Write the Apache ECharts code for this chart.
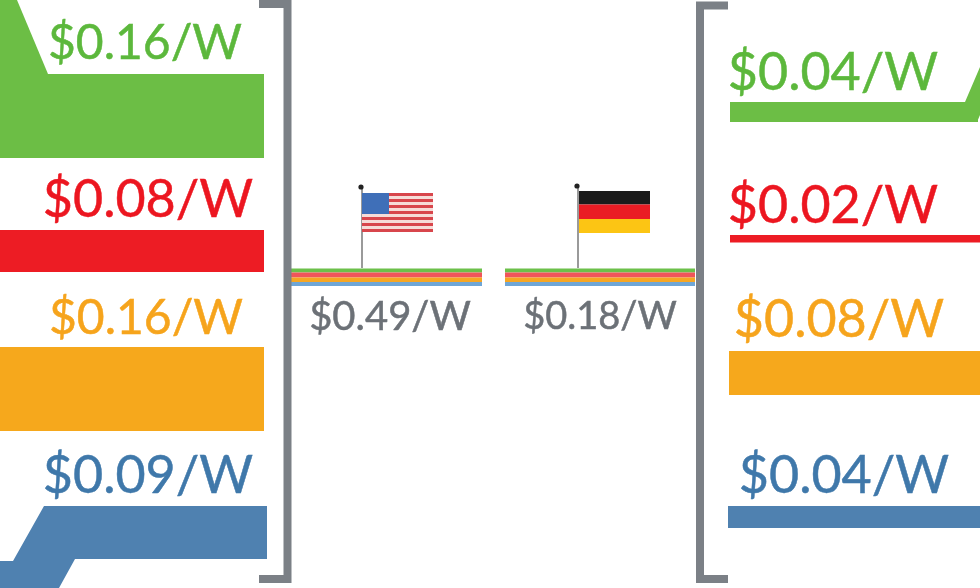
<!DOCTYPE html>
<html>
<head>
<meta charset="utf-8">
<style>
html,body{margin:0;padding:0;background:#fff;overflow:hidden}
#c{width:980px;height:588px;filter:blur(0.45px)}
</style>
<script src="https://cdn.jsdelivr.net/npm/echarts@6/dist/echarts.min.js"></script>
</head>
<body>
<div id="c"></div>
<script>
// ---- data ----
const categories = ['green', 'red', 'orange', 'blue'];
const usLabels = ['$0.16/W', '$0.08/W', '$0.16/W', '$0.09/W'];
const deLabels = ['$0.04/W', '$0.02/W', '$0.08/W', '$0.04/W'];
const usBandValues = [0.16, 0.08, 0.16, 0.101];
const deBandValues = [0.038, 0.0145, 0.084, 0.042];
const countries = ['US', 'Germany'];
const totalLabels = ['$0.49/W', '$0.18/W'];

// ---- layout & style (pixels -> axis units) ----
const PX = 525;               // pixels per $/W on the vertical axis
const y = p => p / PX;
const colors = ['#6cbe45', '#ed1c24', '#f6a81c', '#4f81b0'];
const textColors = ['#5cb83c', '#ec1620', '#f6a41c', '#3f78aa'];
const stripColors = ['#6cc04a', '#f0555a', '#f6a623', '#6fa6d6'];
const greyText = '#6c7177', bracketGrey = '#7b8086';
const FONT = 'Lato';

const usX = [[0,264],[0,264],[0,264],[70,267]];
const usTop = [74,230,347,506];
const deX = [[730,978],[730,980],[729,980],[728,980]];
const deTop = [102,235,351,506];
const usLabelPos = [[145,44],[148,200],[146,319],[148,476]];
const deLabelPos = [[833,73],[833,206],[839,320],[844,476]];
const usFontSizes = [48,52,48,52];
const deFontSizes = [52,52,52,52];
const totalPos = [[390,317],[600,317]];
const totalFontSizes = [40,38];
const stripX = [[291,482],[505,695]];
const stripEdges = [268.5,272.5,277.5,282,286];

const connectors = [
  {c:0, pts:[[0,0],[17,0],[48,74],[0,74]]},
  {c:3, pts:[[44,506],[13,561],[0,561],[0,588],[59,588],[75,559],[110,559],[110,506]]},
  {c:0, pts:[[955,102],[965,102],[980,67],[980,115],[977,122],[955,122]]}
];
const brackets = [
  [[259,4],[287.5,4],[287.5,579],[259,579]],
  [[728,5.5],[700,5.5],[700,579],[728,579]]
];
// flags: rectangles [x0,y0,x1,y1,color]
const usFlag = [];
(function(){
  const top=193,h=39/13;
  for(let i=0;i<13;i++) usFlag.push([362,top+i*h,433,top+(i+1)*h,i%2?'#f6dcd8':'#d8464c']);
  usFlag.push([362,193,389,214,'#3f6fb8']);
})();
const deFlag = [
  [579,191,650,204.5,'#1b1b1b'],
  [579,204.5,650,219,'#ea1c24'],
  [579,219,650,233,'#fcc514']
];
const poles = [[362,187,268],[578,186,268]];

// ---- series data built from the arrays ----
const bandData = [];
usBandValues.forEach((v,i)=>bandData.push([usX[i][0],usX[i][1],y(usTop[i]),v,i]));
deBandValues.forEach((v,i)=>bandData.push([deX[i][0],deX[i][1],y(deTop[i]),v,i]));

const labelData = [];
function addLabels(names,pos,sizes){
  names.forEach((t,i)=>labelData.push({value:[pos[i][0],y(pos[i][1])],name:t,
    label:{color:textColors[i],fontSize:sizes[i],textBorderColor:textColors[i],textBorderWidth:0.5}}));
}
addLabels(usLabels,usLabelPos,usFontSizes);
addLabels(deLabels,deLabelPos,deFontSizes);

const rectRender = (params,api)=>{
  const p0=api.coord([api.value(0),api.value(2)]);
  const p1=api.coord([api.value(1),api.value(2)+api.value(3)]);
  return {type:'rect',shape:{x:p0[0],y:p0[1],width:p1[0]-p0[0],height:p1[1]-p0[1]},
    style:{fill:colors[api.value(4)]}};
};
const stripData=[];
stripX.forEach(r=>categories.forEach((_,i)=>stripData.push([r[0],r[1],y(stripEdges[i]),y(stripEdges[i+1]-stripEdges[i]),i])));

const flagRects=usFlag.concat(deFlag);

const option={
  animation:false,
  backgroundColor:'#fff',
  grid:{left:0,right:0,top:0,bottom:0},
  xAxis:{type:'value',min:0,max:980,show:false},
  yAxis:{type:'value',min:0,max:588/PX,inverse:true,show:false},
  series:[
    {type:'custom',name:'bands',coordinateSystem:'cartesian2d',data:bandData,renderItem:rectRender,silent:true},
    {type:'custom',name:'connectors',coordinateSystem:'cartesian2d',data:connectors.map((_,i)=>[i]),silent:true,
      renderItem:(params,api)=>{
        const c=connectors[params.dataIndex];
        return {type:'polygon',shape:{points:c.pts.map(p=>api.coord([p[0],y(p[1])]))},style:{fill:colors[c.c]}};
      }},
    {type:'custom',name:'poles',coordinateSystem:'cartesian2d',data:poles.map((_,i)=>[i]),silent:true,
      renderItem:(params,api)=>{
        const p=poles[params.dataIndex];
        const a=api.coord([p[0],y(p[1])]),b=api.coord([p[0],y(p[2])]);
        return {type:'group',children:[
          {type:'line',shape:{x1:a[0],y1:a[1],x2:b[0],y2:b[1]},style:{stroke:'#9a9a9a',lineWidth:2}},
          {type:'circle',shape:{cx:a[0]-1,cy:a[1],r:2.6},style:{fill:'#222'}}
        ]};
      }},
    {type:'custom',name:'flags',coordinateSystem:'cartesian2d',data:flagRects.map((_,i)=>[i]),silent:true,
      renderItem:(params,api)=>{
        const r=flagRects[params.dataIndex];
        const a=api.coord([r[0],y(r[1])]),b=api.coord([r[2],y(r[3])]);
        return {type:'rect',shape:{x:a[0],y:a[1],width:b[0]-a[0],height:b[1]-a[1]},style:{fill:r[4]}};
      }},
    {type:'custom',name:'strips',coordinateSystem:'cartesian2d',data:stripData,silent:true,
      renderItem:(params,api)=>{
        const p0=api.coord([api.value(0),api.value(2)]);
        const p1=api.coord([api.value(1),api.value(2)+api.value(3)]);
        return {type:'rect',shape:{x:p0[0],y:p0[1],width:p1[0]-p0[0],height:p1[1]-p0[1]},
          style:{fill:stripColors[api.value(4)]}};
      }},
    ...brackets.map(b=>({type:'line',data:b.map(p=>[p[0],y(p[1])]),symbol:'none',silent:true,
      lineStyle:{color:bracketGrey,width:8,cap:'butt',join:'miter'}})),
    {type:'scatter',name:'labels',data:labelData,symbolSize:0,silent:true,itemStyle:{opacity:1},
      label:{show:true,position:'inside',formatter:'{b}',fontFamily:FONT,fontWeight:400,opacity:1}},
    {type:'scatter',name:'totals',data:totalLabels.map((t,i)=>({value:[totalPos[i][0],y(totalPos[i][1])],name:t,
        label:{fontSize:totalFontSizes[i]}})),
      symbolSize:0,silent:true,itemStyle:{opacity:1},
      label:{show:true,position:'inside',formatter:'{b}',fontFamily:FONT,color:greyText,textBorderColor:greyText,textBorderWidth:0.5,opacity:1}}
  ]
};
const chart=echarts.init(document.getElementById('c'),null,{renderer:'canvas'});
chart.setOption(option);
</script>
</body>
</html>
